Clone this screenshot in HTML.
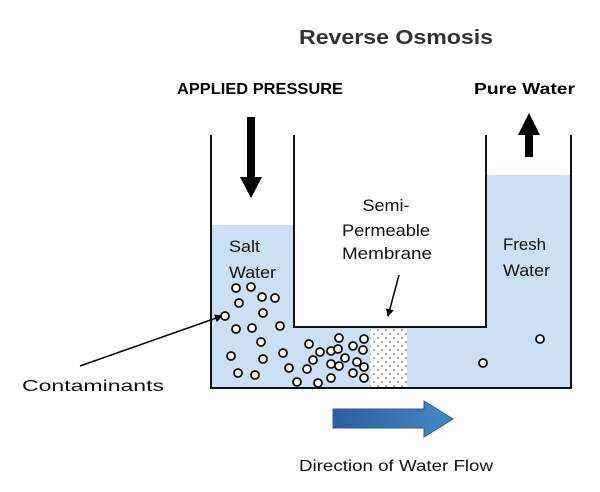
<!DOCTYPE html>
<html><head><meta charset="utf-8"><style>html,body{margin:0;padding:0;background:#fff}svg{display:block}</style></head>
<body>
<svg width="600" height="492" viewBox="0 0 600 492" xmlns="http://www.w3.org/2000/svg" font-family="Liberation Sans, sans-serif">
<defs>
<pattern id="dots" width="8" height="8" patternUnits="userSpaceOnUse"><circle cx="2" cy="2" r="0.8" fill="#444"/><circle cx="6" cy="6" r="0.8" fill="#444"/></pattern>
<linearGradient id="bg" x1="0" y1="0" x2="1" y2="0"><stop offset="0" stop-color="#2a5f9e"/><stop offset="1" stop-color="#4a86c6"/></linearGradient>
<marker id="ah" markerWidth="8" markerHeight="8" refX="7" refY="4" orient="auto" markerUnits="userSpaceOnUse"><path d="M0,0 L8,4 L0,8 z" fill="#000"/></marker>
</defs>
<text x="396" y="44" text-anchor="middle" font-size="20" font-weight="bold" fill="#333" textLength="194" lengthAdjust="spacingAndGlyphs">Reverse Osmosis</text>
<text x="177" y="94" font-size="16" font-weight="bold" textLength="166" lengthAdjust="spacingAndGlyphs">APPLIED PRESSURE</text>
<text x="474" y="94" font-size="16" font-weight="bold" textLength="101" lengthAdjust="spacingAndGlyphs">Pure Water</text>
<path d="M212,225 H293 V328 H487 V175 H570 V387 H212 Z" fill="#cddff2"/>
<rect x="370" y="329" width="37" height="58" fill="#fff"/>
<rect x="370" y="329" width="37" height="58" fill="url(#dots)"/>
<path d="M211,135 V388 H571 V135" fill="none" stroke="#111" stroke-width="2"/>
<path d="M294,135 V327 H486 V135" fill="none" stroke="#111" stroke-width="2"/>
<rect x="247" y="117" width="8" height="62" fill="#000"/>
<path d="M240,177 H262 L251,198 Z" fill="#000"/>
<rect x="525" y="133" width="8" height="24" fill="#000"/>
<path d="M518,135 H540 L529,113 Z" fill="#000"/>
<g font-size="17" fill="#111">
<text x="229" y="252" textLength="31" lengthAdjust="spacingAndGlyphs">Salt</text>
<text x="229" y="278" textLength="47" lengthAdjust="spacingAndGlyphs">Water</text>
<text x="386" y="211" text-anchor="middle" textLength="47" lengthAdjust="spacingAndGlyphs">Semi-</text>
<text x="386" y="236" text-anchor="middle" textLength="88" lengthAdjust="spacingAndGlyphs">Permeable</text>
<text x="387" y="259" text-anchor="middle" textLength="90" lengthAdjust="spacingAndGlyphs">Membrane</text>
<text x="503" y="250" textLength="43" lengthAdjust="spacingAndGlyphs">Fresh</text>
<text x="503" y="276" textLength="47" lengthAdjust="spacingAndGlyphs">Water</text>
<text x="22" y="391" font-size="16" textLength="142" lengthAdjust="spacingAndGlyphs">Contaminants</text>
<text x="396" y="471" font-size="16" text-anchor="middle" textLength="194" lengthAdjust="spacingAndGlyphs">Direction of Water Flow</text>
</g>
<line x1="80" y1="366" x2="222" y2="316" stroke="#000" stroke-width="1.5" marker-end="url(#ah)"/>
<line x1="399" y1="275" x2="388" y2="316" stroke="#000" stroke-width="1.5" marker-end="url(#ah)"/>
<path d="M333,409 H424 V401 L453,419 L424,437 V428 H333 Z" fill="url(#bg)" stroke="#2a5a90" stroke-width="1"/>
<g fill="#fff" stroke="#111" stroke-width="1.8">
<circle cx="236" cy="288" r="4"/><circle cx="251" cy="287" r="4"/><circle cx="262" cy="297" r="4"/><circle cx="275" cy="298" r="4"/>
<circle cx="239" cy="303" r="4"/><circle cx="263" cy="313" r="4"/><circle cx="225" cy="316" r="4"/><circle cx="236" cy="329" r="4"/>
<circle cx="252" cy="328" r="4"/><circle cx="280" cy="326" r="4"/><circle cx="261" cy="342" r="4"/><circle cx="231" cy="356" r="4"/>
<circle cx="263" cy="359" r="4"/><circle cx="283" cy="353" r="4"/><circle cx="238" cy="373" r="4"/><circle cx="255" cy="375" r="4"/>
<circle cx="289" cy="368" r="4"/><circle cx="297" cy="382" r="4"/><circle cx="309" cy="344" r="4"/><circle cx="320" cy="352" r="4"/>
<circle cx="313" cy="360" r="4"/><circle cx="331" cy="351" r="4"/><circle cx="339" cy="366" r="4"/><circle cx="338" cy="349" r="4"/>
<circle cx="331" cy="378" r="4"/><circle cx="339" cy="338" r="4"/><circle cx="353" cy="346" r="4"/><circle cx="353" cy="373" r="4"/>
<circle cx="357" cy="362" r="4"/><circle cx="364" cy="378" r="4"/><circle cx="331" cy="364" r="4"/><circle cx="307" cy="369" r="4"/>
<circle cx="364" cy="339" r="4"/><circle cx="363" cy="350" r="4"/><circle cx="364" cy="367" r="4"/><circle cx="318" cy="383" r="4"/>
<circle cx="345" cy="358" r="4"/><circle cx="483" cy="363" r="4"/><circle cx="540" cy="339" r="4"/>
</g>
</svg>
</body></html>
